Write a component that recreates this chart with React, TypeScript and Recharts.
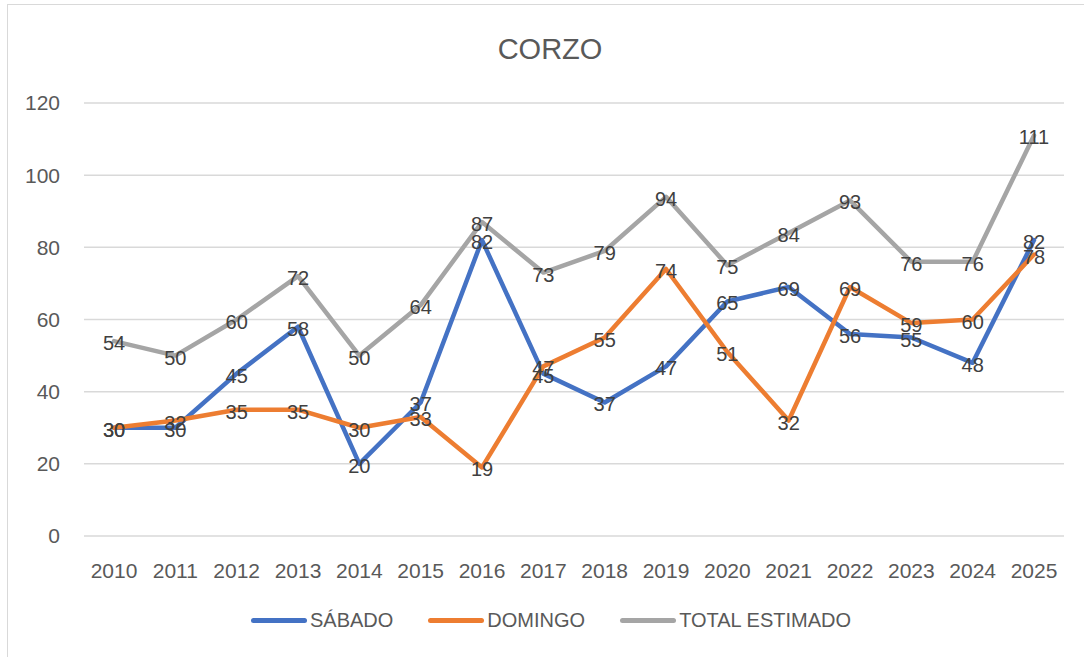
import { LineChart, Line, XAxis, YAxis, CartesianGrid, Legend, LabelList } from 'recharts'

const years = ['2010', '2011', '2012', '2013', '2014', '2015', '2016', '2017', '2018', '2019', '2020', '2021', '2022', '2023', '2024', '2025']
const sabado = [30, 30, 45, 58, 20, 37, 82, 45, 37, 47, 65, 69, 56, 55, 48, 82]
const domingo = [30, 32, 35, 35, 30, 33, 19, 47, 55, 74, 51, 32, 69, 59, 60, 78]
const total = [54, 50, 60, 72, 50, 64, 87, 73, 79, 94, 75, 84, 93, 76, 76, 111]
const yTicks = [0, 20, 40, 60, 80, 100, 120]

const series = [
  { key: 'sabado', name: 'SÁBADO', color: '#4472C4' },
  { key: 'domingo', name: 'DOMINGO', color: '#ED7D31' },
  { key: 'total', name: 'TOTAL ESTIMADO', color: '#A5A5A5' },
]

const data = years.map((year, i) => ({
  year,
  sabado: sabado[i],
  domingo: domingo[i],
  total: total[i],
}))

const FONT = '"Liberation Sans", Arial, sans-serif'

// Excel-style centered data label
function PointLabel(props: any) {
  const { x, y, value } = props
  if (x == null || y == null) return null
  return (
    <text
      x={x}
      y={y + 2}
      textAnchor="middle"
      dominantBaseline="central"
      fill="#404040"
      fontSize={20}
      fontFamily={FONT}
    >
      {value}
    </text>
  )
}

function ChartLegend() {
  return (
    <div
      style={{
        height: 61,
        display: 'flex',
        justifyContent: 'center',
        alignItems: 'flex-start',
        paddingTop: 12,
        boxSizing: 'border-box',
        fontFamily: FONT,
        fontSize: 20,
        color: '#595959',
        paddingLeft: 38,
      }}
    >
      {series.map((s, i) => (
        <div
          key={s.key}
          style={{ display: 'flex', alignItems: 'center', height: 24, marginLeft: i === 0 ? 0 : 35 }}
        >
          <div style={{ width: 56, height: 5, borderRadius: 3, background: s.color, marginRight: 3 }} />
          <span>{s.name}</span>
        </div>
      ))}
    </div>
  )
}

export default function App() {
  return (
    <div style={{ position: 'fixed', left: 0, top: 0, width: 1084, height: 657, background: '#fff', overflow: 'hidden' }}>
      <div
        style={{
          position: 'absolute',
          left: 7,
          top: 4,
          width: 1100,
          height: 700,
          border: '1.5px solid #d9d9d9',
        }}
      />
      <div
        style={{
          position: 'absolute',
          left: 0,
          top: 33,
          width: 1100,
          textAlign: 'center',
          fontFamily: FONT,
          fontSize: 29,
          color: '#595959',
        }}
      >
        CORZO
      </div>
      <div style={{ position: 'absolute', left: 0, top: 0 }}>
        <LineChart width={1084} height={657} data={data} margin={{ top: 103, right: 20, left: 0, bottom: 0 }}>
          <CartesianGrid vertical={false} stroke="#d9d9d9" strokeWidth={1.5} />
          <XAxis
            dataKey="year"
            height={60}
            axisLine={false}
            tickLine={false}
            tickMargin={21}
            padding={{ left: 30, right: 30 }}
            interval={0}
            tick={{ fill: '#595959', fontSize: 21, fontFamily: FONT }}
          />
          <YAxis
            width={84}
            domain={[0, 120]}
            ticks={yTicks}
            axisLine={false}
            tickLine={false}
            tickMargin={18}
            tick={{ fill: '#595959', fontSize: 21, fontFamily: FONT }}
          />
          <Legend verticalAlign="bottom" height={61} content={() => <ChartLegend />} />
          {series.map((s) => (
            <Line
              key={s.key}
              dataKey={s.key}
              name={s.name}
              stroke={s.color}
              strokeWidth={4.5}
              strokeLinecap="round"
              strokeLinejoin="round"
              dot={false}
              isAnimationActive={false}
            />
          ))}
          {series.map((s) => (
            <Line
              key={s.key + '-labels'}
              dataKey={s.key}
              stroke="none"
              dot={false}
              legendType="none"
              isAnimationActive={false}
            >
              <LabelList dataKey={s.key} content={PointLabel} />
            </Line>
          ))}
        </LineChart>
      </div>
    </div>
  )
}
